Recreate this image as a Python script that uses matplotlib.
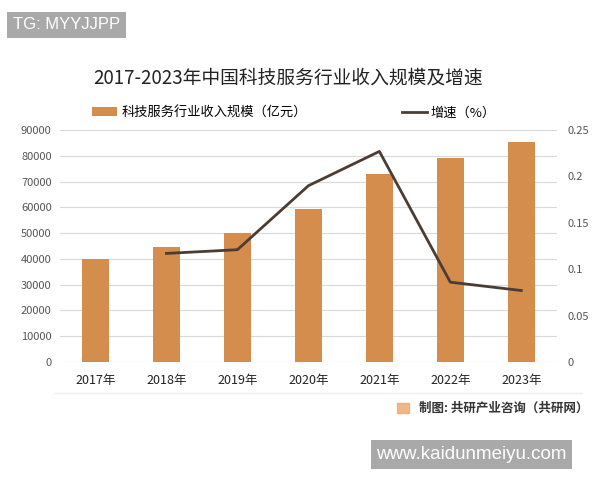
import matplotlib.pyplot as plt
from matplotlib.patches import Rectangle

plt.rcParams['font.family'] = ['Noto Sans CJK SC', 'DejaVu Sans']

# Data for the chart
years = ["2017年", "2018年", "2019年", "2020年", "2021年", "2022年", "2023年"]
revenue = [40000, 44800, 50000, 59500, 72800, 79000, 85300]
growth_years = ["2018年", "2019年", "2020年", "2021年", "2022年", "2023年"]
growth = [0.117, 0.121, 0.190, 0.227, 0.086, 0.077]

bar_color = "#D58D4E"
line_color = "#4B3D33"
tick_color = "#555555"

fig = plt.figure(figsize=(6, 4.8), dpi=100)
ax = fig.add_axes([0.10, 0.246, 0.828, 0.483])

x = list(range(len(years)))
bars = ax.bar(x, revenue, width=0.38, color=bar_color, zorder=2,
              label="科技服务行业收入规模（亿元）")
ax.set_xlim(-0.5, len(years) - 0.5)
ax.set_ylim(0, 90000)
ax.set_yticks(range(0, 90001, 10000))
ax.set_xticks(x)
ax.set_xticklabels(years)
ax.grid(axis="y", color="#d9d9d9", linewidth=0.8, zorder=0)
for s in ax.spines.values():
    s.set_visible(False)
ax.tick_params(length=0, labelsize=8, colors=tick_color, pad=6)
ax.tick_params(axis="x", pad=9, labelsize=9, labelcolor="#222222")

ax2 = ax.twinx()
gx = [years.index(y) for y in growth_years]
line, = ax2.plot(gx, growth, color=line_color, linewidth=2, zorder=3,
                 label="增速（%）")
ax2.set_ylim(0, 0.25)
ax2.set_yticks([0, 0.05, 0.1, 0.15, 0.2, 0.25])
ax2.set_yticklabels(["0", "0.05", "0.1", "0.15", "0.2", "0.25"])
for s in ax2.spines.values():
    s.set_visible(False)
ax2.tick_params(length=0, labelsize=8, colors=tick_color, pad=8)

# Title and legend
fig.text(0.48, 0.838, "2017-2023年中国科技服务行业收入规模及增速",
         ha="center", va="center", fontsize=13.5, color="#222222")
fig.legend(handles=[bars, line], loc="center", bbox_to_anchor=(0.49, 0.765),
           ncol=2, frameon=False, fontsize=9.5, columnspacing=7.2,
           handlelength=1.9, handletextpad=0.3)

# Separator and source note
fig.add_artist(plt.Line2D([0.09, 0.97], [0.182, 0.182], color="#eeeeee",
                          linewidth=1, transform=fig.transFigure))
fig.patches.append(Rectangle((0.662, 0.139), 0.019, 0.022, color="#EDA66A",
                             alpha=0.8, transform=fig.transFigure))
fig.text(0.698, 0.149, "制图: 共研产业咨询（共研网）", ha="left", va="center",
         fontsize=9, color="#333333", fontweight="bold")

# Corner tags
fig.text(0.022, 0.948, "TG: MYYJJPP", ha="left", va="center", fontsize=12,
         color="white", family=["Liberation Sans"],
         bbox=dict(boxstyle="square,pad=0.35", fc="#a9a9a9", ec="none"))
fig.text(0.627, 0.053, "www.kaidunmeiyu.com", ha="left", va="center",
         fontsize=13.5, color="white", family=["Liberation Sans"],
         bbox=dict(boxstyle="square,pad=0.3", fc="#a9a9a9", ec="none"))

fig.savefig("out.png", dpi=100)
